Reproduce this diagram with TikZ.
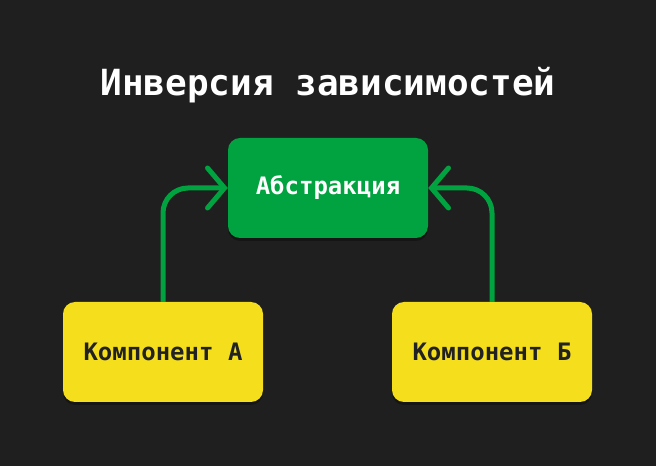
\documentclass[tikz,border=0pt]{standalone}
\usepackage{fontspec}
\setmonofont{DejaVu Sans Mono}
\usetikzlibrary{arrows.meta,shadows}
\definecolor{bgdark}{HTML}{1F1F1F}
\definecolor{absgreen}{HTML}{00A33F}
\definecolor{compyellow}{HTML}{F5DF1D}
\definecolor{comptext}{HTML}{222222}
\tikzset{
  box/.style={rounded corners=12pt, minimum width=200pt, minimum height=100pt,
    inner sep=0pt, font=\ttfamily\bfseries\fontsize{24}{28}\selectfont,
    drop shadow={fill=black, opacity=0.3, shadow xshift=0pt, shadow yshift=-3pt}},
  abstraction/.style={box, fill=absgreen, text=white},
  component/.style={box, fill=compyellow, text=comptext},
  depends/.style={draw=absgreen, line width=5pt, rounded corners=25pt,
    -{Straight Barb[length=17pt,width=40pt,line cap=round]}}
}
\begin{document}
\begin{tikzpicture}[x=1pt,y=1pt]
    \fill[bgdark] (0,0) rectangle (656,466);
    \useasboundingbox (0,0) rectangle (656,466);

    \node[text=white, font=\ttfamily\bfseries\fontsize{36}{42}\selectfont] (title) at (328,381) {Инверсия зависимостей};

    \node[abstraction] (abs) at (328,278) {Абстракция};
    \node[component] (compA) at (163,114) {Компонент А};
    \node[component] (compB) at (492,114) {Компонент Б};

    \draw[depends] (compA.north) |- (abs.west);
    \draw[depends] (compB.north) |- (abs.east);
\end{tikzpicture}
\end{document}
